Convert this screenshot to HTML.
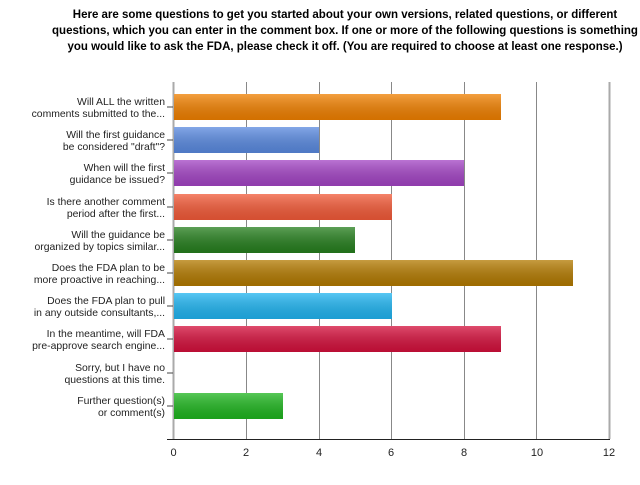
<!DOCTYPE html><html><head><style>body{margin:0;background:#fff;font-family:"Liberation Sans",sans-serif}</style></head><body>
<svg width="640" height="480" xmlns="http://www.w3.org/2000/svg" font-family="Liberation Sans, sans-serif">
<defs>
<linearGradient id="g" x1="0" y1="0" x2="0" y2="1"><stop offset="0" stop-color="#fff" stop-opacity="0.25"/><stop offset="1" stop-color="#000" stop-opacity="0.12"/></linearGradient>
</defs>
<g font-size="11.5" font-weight="bold" text-anchor="middle" fill="#000">
<text x="345" y="18">Here are some questions to get you started about your own versions, related questions, or different</text>
<text x="345" y="34">questions, which you can enter in the comment box. If one or more of the following questions is something</text>
<text x="345" y="50">you would like to ask the FDA, please check it off. (You are required to choose at least one response.)</text>
</g>
<g stroke="#888" stroke-width="1">
<line x1="246.5" y1="82" x2="246.5" y2="439"/><line x1="319.5" y1="82" x2="319.5" y2="439"/><line x1="391.5" y1="82" x2="391.5" y2="439"/><line x1="464.5" y1="82" x2="464.5" y2="439"/><line x1="536.5" y1="82" x2="536.5" y2="439"/>
</g>
<line x1="173.5" y1="82" x2="173.5" y2="439" stroke="#aaa" stroke-width="2"/>
<line x1="609.5" y1="82" x2="609.5" y2="439" stroke="#aaa" stroke-width="2"/>
<g>
<rect x="174" y="94" width="327" height="26" fill="#f08000"/>
<rect x="174" y="127" width="145" height="26" fill="#5a8ae0"/>
<rect x="174" y="160" width="290" height="26" fill="#a344c4"/>
<rect x="174" y="194" width="218" height="26" fill="#f25a38"/>
<rect x="174" y="227" width="181" height="26" fill="#267f1e"/>
<rect x="174" y="260" width="399" height="26" fill="#b37a00"/>
<rect x="174" y="293" width="218" height="26" fill="#20b4f0"/>
<rect x="174" y="326" width="327" height="26" fill="#d4103c"/>
<rect x="174" y="393" width="109" height="26" fill="#1fb51f"/>
</g>
<g fill="url(#g)">
<rect x="174" y="94" width="327" height="26"/><rect x="174" y="127" width="145" height="26"/><rect x="174" y="160" width="290" height="26"/><rect x="174" y="194" width="218" height="26"/><rect x="174" y="227" width="181" height="26"/><rect x="174" y="260" width="399" height="26"/><rect x="174" y="293" width="218" height="26"/><rect x="174" y="326" width="327" height="26"/><rect x="174" y="393" width="109" height="26"/>
</g>
<line x1="167" y1="439.5" x2="610" y2="439.5" stroke="#222" stroke-width="1"/>
<g stroke="#444"><line x1="167" y1="107" x2="173" y2="107"/><line x1="167" y1="140" x2="173" y2="140"/><line x1="167" y1="173" x2="173" y2="173"/><line x1="167" y1="207" x2="173" y2="207"/><line x1="167" y1="240" x2="173" y2="240"/><line x1="167" y1="273" x2="173" y2="273"/><line x1="167" y1="306" x2="173" y2="306"/><line x1="167" y1="339" x2="173" y2="339"/><line x1="167" y1="373" x2="173" y2="373"/><line x1="167" y1="406" x2="173" y2="406"/></g>
<g font-size="10.4" text-anchor="end" fill="#222">
<text x="165" y="105">Will ALL the written</text><text x="165" y="117">comments submitted to the...</text>
<text x="165" y="138">Will the first guidance</text><text x="165" y="150">be considered "draft"?</text>
<text x="165" y="171">When will the first</text><text x="165" y="183">guidance be issued?</text>
<text x="165" y="205">Is there another comment</text><text x="165" y="217">period after the first...</text>
<text x="165" y="238">Will the guidance be</text><text x="165" y="250">organized by topics similar...</text>
<text x="165" y="271">Does the FDA plan to be</text><text x="165" y="283">more proactive in reaching...</text>
<text x="165" y="304">Does the FDA plan to pull</text><text x="165" y="316">in any outside consultants,...</text>
<text x="165" y="337">In the meantime, will FDA</text><text x="165" y="349">pre-approve search engine...</text>
<text x="165" y="371">Sorry, but I have no</text><text x="165" y="383">questions at this time.</text>
<text x="165" y="404">Further question(s)</text><text x="165" y="416">or comment(s)</text>
</g>
<g font-size="11" text-anchor="middle" fill="#222">
<text x="173.5" y="456">0</text><text x="246" y="456">2</text><text x="319" y="456">4</text><text x="391" y="456">6</text><text x="464" y="456">8</text><text x="537" y="456">10</text><text x="609" y="456">12</text>
</g>
</svg>
</body></html>
